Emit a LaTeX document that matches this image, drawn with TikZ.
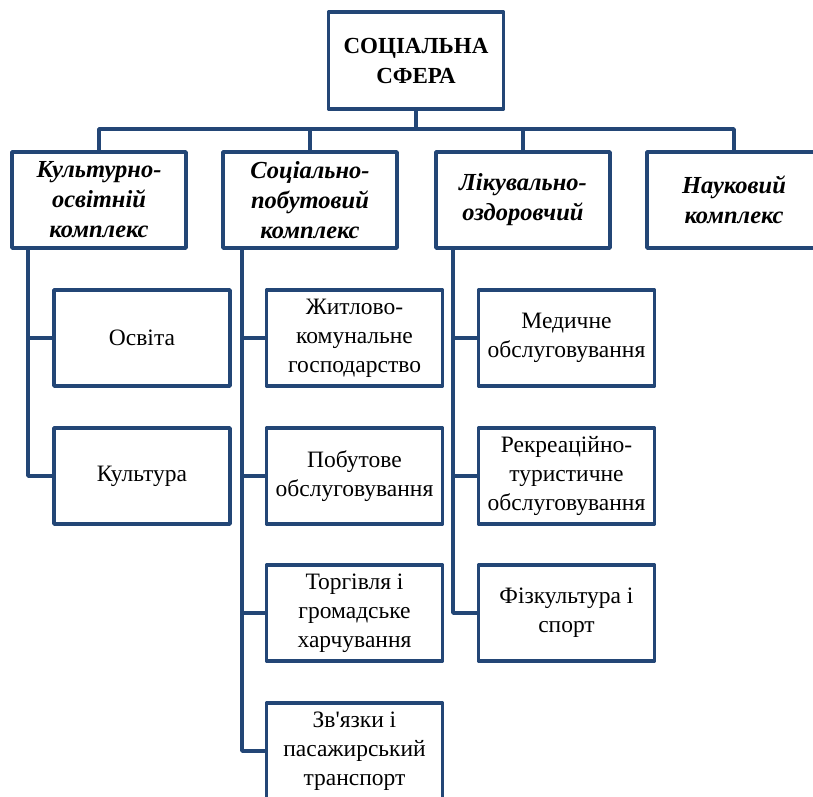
\documentclass[tikz,border=0pt]{standalone}
\usepackage{fontspec}
\setmainfont{Liberation Serif}[Ligatures=TeXOff]
\definecolor{frame}{RGB}{35,70,118}
\begin{document}
\begin{tikzpicture}[x=1pt,y=-1pt,
  line width=3.5pt, line join=round,
  box/.style={draw=frame, fill=white, rectangle, align=center, inner sep=2pt,
    font=\fontsize{23.5}{29}\selectfont},
  head/.style={box, minimum width=174pt, minimum height=96pt,
    font=\fontsize{24.5}{30}\selectfont\bfseries\itshape},
  item/.style={box, minimum width=176pt, minimum height=96pt},
  link/.style={draw=frame}]
\useasboundingbox (0,0) rectangle (813,796);
\clip (0,0) rectangle (813,796);

% root
\node[box, minimum width=175pt, minimum height=97pt,
  font=\fontsize{23}{30}\selectfont\bfseries] (top) at (416,60.5) {СОЦІАЛЬНА\\СФЕРА};

% first level
\node[head] (c1) at (99,200) {Культурно-\\освітній\\комплекс};
\node[head] (c2) at (310,200) {Соціально-\\побутовий\\комплекс};
\node[head] (c3) at (523,200) {Лікувально-\\оздоровчий};
\node[head] (c4) at (734,200) {Науковий\\комплекс};

% second level
\node[item] (a1) at (142,338) {Освіта};
\node[item] (a2) at (142,476) {Культура};

\node[item] (b1) at (354.5,338) {Житлово-\\комунальне\\господарство};
\node[item] (b2) at (354.5,476) {Побутове\\обслуговування};
\node[item] (b3) at (354.5,613) {Торгівля і\\громадське\\харчування};
\node[item] (b4) at (354.5,751) {Зв'язки і\\пасажирський\\транспорт};

\node[item] (d1) at (566.5,338) {Медичне\\обслуговування};
\node[item] (d2) at (566.5,476) {Рекреаційно-\\туристичне\\обслуговування};
\node[item] (d3) at (566.5,613) {Фізкультура і\\спорт};

% bus under the root
\coordinate (bus) at (416,129);
\draw[link] (top.south) -- (top.south |- bus);
\draw[link] (c1.north) -- (c1.north |- bus) -- (c4.north |- bus) -- (c4.north);
\draw[link] (c2.north) -- (c2.north |- bus);
\draw[link] (c3.north) -- (c3.north |- bus);

% vertical spines
\coordinate (s1) at (28,0);
\coordinate (s2) at (242,0);
\coordinate (s3) at (453,0);
\draw[link] (s1 |- c1.south) |- (a2.west);
\draw[link] (s1 |- a1.west) -- (a1.west);

\draw[link] (s2 |- c2.south) |- (b4.west);
\draw[link] (s2 |- b1.west) -- (b1.west);
\draw[link] (s2 |- b2.west) -- (b2.west);
\draw[link] (s2 |- b3.west) -- (b3.west);

\draw[link] (s3 |- c3.south) |- (d3.west);
\draw[link] (s3 |- d1.west) -- (d1.west);
\draw[link] (s3 |- d2.west) -- (d2.west);
\end{tikzpicture}
\end{document}
